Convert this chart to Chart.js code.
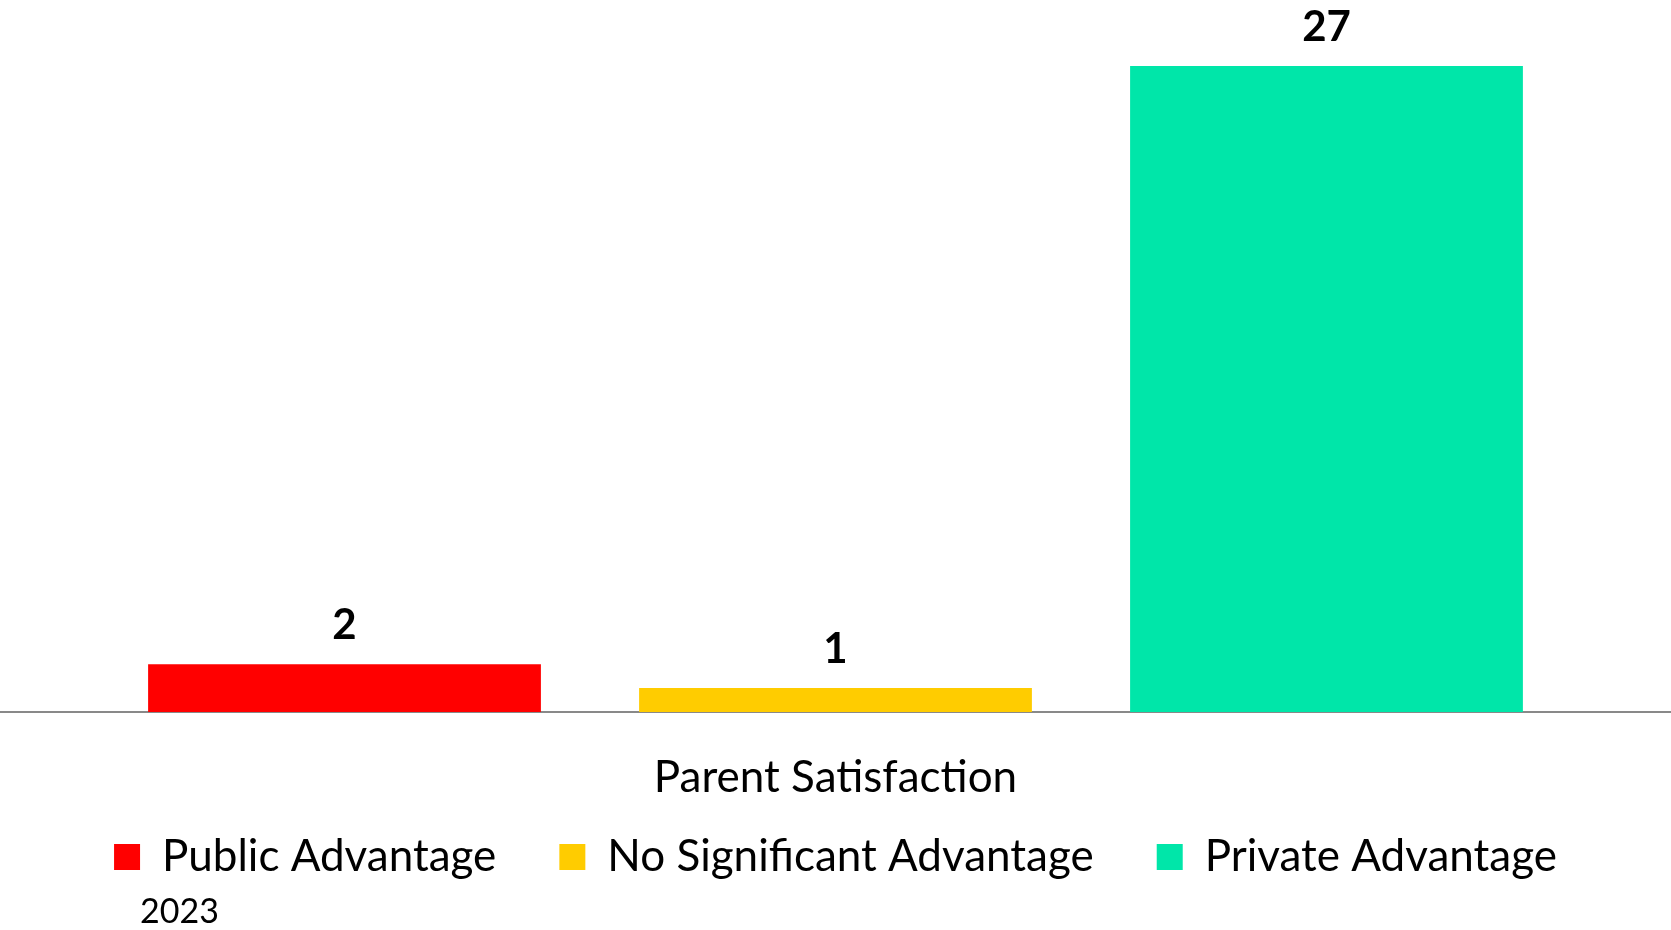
<!DOCTYPE html>
<html>
<head>
<meta charset="utf-8">
<title>Parent Satisfaction</title>
<script src="https://cdn.jsdelivr.net/npm/chart.js@4/dist/chart.umd.min.js"></script>
<style>
  html, body { margin: 0; padding: 0; background: #fff; }
  #wrap { width: 1671px; height: 930px; position: relative; }
</style>
</head>
<body>
<div id="wrap"><canvas id="satisfactionChart"></canvas></div>
<script>
const categories = ['Parent Satisfaction'];
const seriesNames = ['Public Advantage', 'No Significant Advantage', 'Private Advantage'];
const seriesValues = [[2], [1], [27]];
const seriesColors = ['#ff0000', '#ffcc00', '#00e6a9'];
const yearNote = '2023';

const FONT = 'Lato, "Open Sans", sans-serif';

// value labels sitting above each bar
const barValueLabels = {
    id: 'barValueLabels',
    afterDatasetsDraw(chart) {
        const ctx = chart.ctx;
        ctx.save();
        ctx.font = `bold 42px ${FONT}`;
        ctx.fillStyle = '#000';
        ctx.textAlign = 'center';
        ctx.textBaseline = 'alphabetic';
        chart.data.datasets.forEach((ds, i) => {
            const meta = chart.getDatasetMeta(i);
            meta.data.forEach((bar, j) => {
                ctx.fillText(String(ds.data[j]), bar.x, bar.y - 25);
            });
        });
        ctx.restore();
    }
};

// small year note under the legend
const yearFootnote = {
    id: 'yearFootnote',
    afterDraw(chart) {
        const ctx = chart.ctx;
        const first = chart.legend.legendHitBoxes[0];
        ctx.save();
        ctx.font = `34px ${FONT}`;
        ctx.fillStyle = '#000';
        ctx.textAlign = 'left';
        ctx.textBaseline = 'alphabetic';
        ctx.fillText(yearNote, first.left + 26, chart.height - 7);
        ctx.restore();
    }
};

function initChart() {
    const ctx = document.getElementById('satisfactionChart').getContext('2d');

    const datasets = seriesNames.map((name, i) => ({
        label: name,
        data: seriesValues[i],
        backgroundColor: seriesColors[i],
        borderWidth: 0,
        categoryPercentage: 0.8815,
        barPercentage: 0.8
    }));

    new Chart(ctx, {
        type: 'bar',
        data: { labels: categories, datasets: datasets },
        options: {
            responsive: true,
            maintainAspectRatio: false,
            animation: false,
            layout: { padding: { top: 42, bottom: 41, left: 0, right: 0 } },
            plugins: {
                legend: {
                    position: 'bottom',
                    labels: {
                        boxWidth: 26,
                        boxHeight: 26,
                        padding: 63,
                        color: '#000',
                        font: { family: FONT, size: 44 }
                    }
                },
                tooltip: { enabled: false }
            },
            scales: {
                x: {
                    grid: { display: false, drawTicks: false },
                    border: { display: true, color: '#898989', width: 2 },
                    ticks: { display: false },
                    // the single category name, hung just under the axis line
                    title: {
                        display: true,
                        text: categories[0],
                        color: '#000',
                        font: { family: FONT, size: 44, lineHeight: 1.2 },
                        padding: { top: 0, bottom: -32 }
                    },
                    // keep the axis band tight so the legend sits close under the label
                    afterFit(scale) {
                        scale.height = 60;
                    }
                },
                y: {
                    display: false,
                    min: 0,
                    max: 28
                }
            }
        },
        plugins: [barValueLabels, yearFootnote]
    });
}

document.addEventListener('DOMContentLoaded', () => {
    initChart();
});
</script>
</body>
</html>
